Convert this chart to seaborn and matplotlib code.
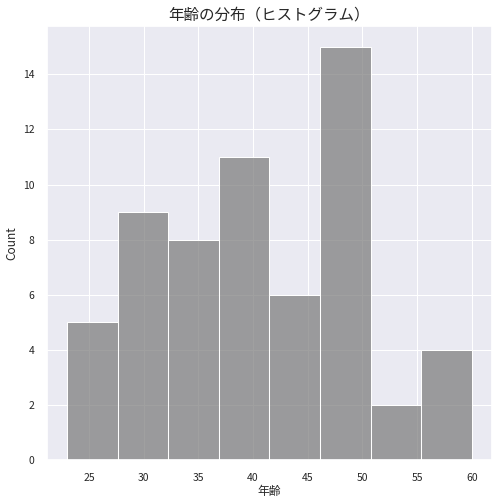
import matplotlib
matplotlib.use("Agg")
import matplotlib.pyplot as plt
import seaborn as sns
import pandas as pd

# Histogram data (8 bins between 23 and 60)
bin_centers = [25.3125, 29.9375, 34.5625, 39.1875, 43.8125, 48.4375, 53.0625, 57.6875]
counts = [5, 9, 8, 11, 6, 15, 2, 4]
age_min, age_max = 23, 60

title = "年齢の分布（ヒストグラム）"
xlabel = "年齢"
ylabel = "Count"

sns.set_theme(style="darkgrid", rc={"grid.linewidth": 0.75})
plt.rcParams["font.family"] = ["Noto Sans CJK JP", "DejaVu Sans"]

df = pd.DataFrame({"年齢": bin_centers, "n": counts})

fig = plt.figure(figsize=(4.99, 5.04), dpi=100)
ax = fig.add_axes([0.094, 0.0873, 0.892, 0.8607])
sns.histplot(data=df, x="年齢", weights="n", bins=8, binrange=(age_min, age_max),
             color="gray", ax=ax, edgecolor="white", linewidth=0.75)
ax.set_title(title, fontsize=11.2, pad=5)
ax.set_xlabel(xlabel, fontsize=8.5, labelpad=2)
ax.set_ylabel(ylabel, fontsize=8.5, labelpad=3)
ax.tick_params(axis="both", labelsize=7.5, pad=3)
fig.savefig("out.png", dpi=100)
